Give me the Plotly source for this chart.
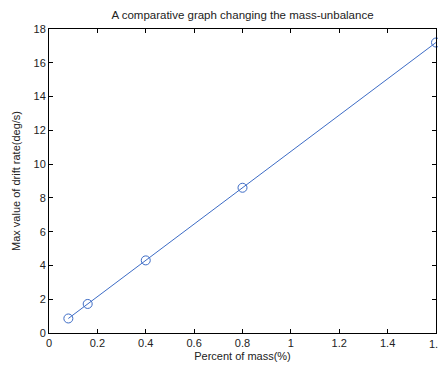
import plotly.graph_objects as go

# Mass-unbalance percentage and resulting peak drift rate
mass_percent = [0.08, 0.16, 0.4, 0.8, 1.6]
max_drift_rate = [0.86, 1.72, 4.3, 8.6, 17.2]

x_ticks = [0, 0.2, 0.4, 0.6, 0.8, 1.0, 1.2, 1.4, 1.6]
x_tick_text = ["0", "0.2", "0.4", "0.6", "0.8", "1", "1.2", "1.4", "1.6"]
y_ticks = [0, 2, 4, 6, 8, 10, 12, 14, 16, 18]

line_color = "#3d6cc6"
text_color = "#222222"
font_family = "Liberation Sans, Arial, sans-serif"

fig = go.Figure(
    go.Scatter(
        x=mass_percent,
        y=max_drift_rate,
        mode="lines+markers",
        line=dict(color=line_color, width=1),
        marker=dict(symbol="circle-open", size=9, color=line_color, line=dict(width=1)),
        cliponaxis=False,
    )
)

axis_common = dict(
    showgrid=False,
    zeroline=False,
    showline=True,
    linecolor="#000000",
    linewidth=1,
    mirror="ticks",
    ticks="inside",
    ticklen=4,
    tickcolor="#000000",
    tickfont=dict(family=font_family, size=11, color=text_color),
)

fig.update_layout(
    width=438,
    height=366,
    margin=dict(l=49, r=2, t=29, b=33),
    paper_bgcolor="#ffffff",
    plot_bgcolor="#ffffff",
    showlegend=False,
    title=dict(
        text="A comparative graph changing the mass-unbalance",
        x=0.5,
        xref="paper",
        xanchor="center",
        y=1 - 15 / 366,
        yanchor="middle",
        font=dict(family=font_family, size=11.5, color=text_color),
    ),
    xaxis=dict(
        range=[0, 1.6],
        tickvals=x_ticks,
        ticktext=x_tick_text,
        title=dict(text="Percent of mass(%)", font=dict(family=font_family, size=11, color=text_color), standoff=4),
        **axis_common,
    ),
    yaxis=dict(
        range=[0, 18],
        tickvals=y_ticks,
        title=dict(text="Max value of drift rate(deg/s)", font=dict(family=font_family, size=11, color=text_color), standoff=10),
        **axis_common,
    ),
)

# The last tick label runs past the right edge of the figure; place it explicitly
fig.add_annotation(
    x=x_ticks[-1],
    xref="x",
    y=0,
    yref="paper",
    yshift=-3,
    text=x_tick_text[-1],
    showarrow=False,
    xanchor="center",
    yanchor="top",
    font=dict(family=font_family, size=11, color=text_color),
)

fig.write_html("out.html")
